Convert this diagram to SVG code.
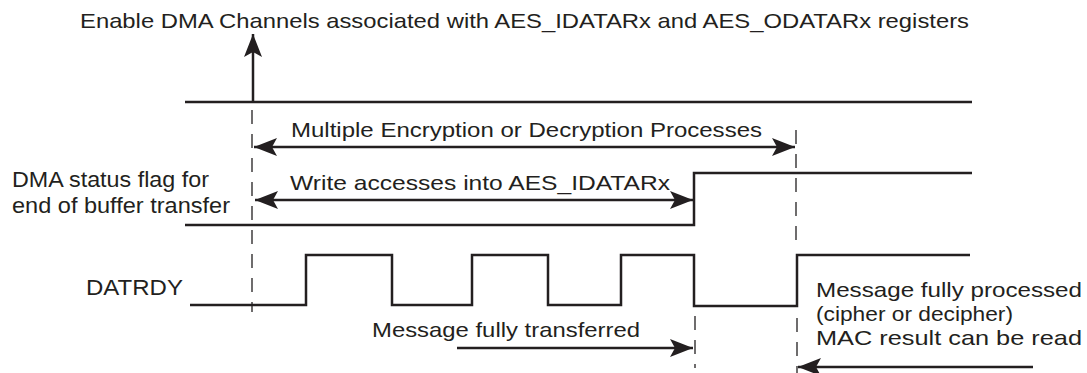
<svg xmlns="http://www.w3.org/2000/svg" width="1087" height="373" viewBox="0 0 1087 373">
<style>
text{font-family:"Liberation Sans",Arial,sans-serif;font-size:21px;fill:#231f20}
.big{font-size:22px}
.sig{fill:none;stroke:#231f20;stroke-width:2.5}
.arr{fill:none;stroke:#231f20;stroke-width:2.5}
.dash{fill:none;stroke:#231f20;stroke-width:1.3;stroke-dasharray:14 10}
</style>
<defs>
<marker id="ahb" viewBox="0 0 23 18" refX="23" refY="9" markerWidth="23" markerHeight="18" markerUnits="userSpaceOnUse" orient="auto-start-reverse">
<path d="M0,0 L23,9 L0,18 L5,9 Z" fill="#231f20"/>
</marker>
</defs>
<rect width="1087" height="373" fill="#fff"/>
<g id="labels">
<text x="80" y="28" textLength="889" lengthAdjust="spacingAndGlyphs">Enable DMA Channels associated with AES_IDATARx and AES_ODATARx registers</text>
<text x="291" y="137" textLength="471" lengthAdjust="spacingAndGlyphs">Multiple Encryption or Decryption Processes</text>
<text class="big" x="12" y="187" textLength="197" lengthAdjust="spacingAndGlyphs">DMA status flag for</text>
<text class="big" x="12" y="213" textLength="218" lengthAdjust="spacingAndGlyphs">end of buffer transfer</text>
<text x="290" y="190" textLength="380" lengthAdjust="spacingAndGlyphs">Write accesses into AES_IDATARx</text>
<text class="big" x="86" y="295" textLength="97" lengthAdjust="spacingAndGlyphs">DATRDY</text>
<text x="372" y="337" textLength="268" lengthAdjust="spacingAndGlyphs">Message fully transferred</text>
<text x="816" y="297" textLength="266" lengthAdjust="spacingAndGlyphs">Message fully processed</text>
<text x="816" y="321" textLength="197" lengthAdjust="spacingAndGlyphs">(cipher or decipher)</text>
<text x="816" y="345" textLength="266" lengthAdjust="spacingAndGlyphs">MAC result  can be read</text>
</g>
<g id="signals">
<path id="enable-line" class="sig" d="M185,102 H972"/>
<path id="dma-flag" class="sig" d="M185,225 H694 V173 H972"/>
<path id="datrdy" class="sig" d="M190,305 H306 V255 H392 V305 H472 V255 H548 V305 H621 V255 H694 V306 H797 V255 H970"/>
</g>
<g id="connectors">
<path class="dash" d="M252,110 V312"/>
<path class="dash" d="M796,130 V250"/>
<path class="dash" d="M797,318 V373"/>
<path class="dash" d="M695,316 V368"/>
<path class="arr" d="M253,102 V34" marker-end="url(#ahb)"/>
<path class="arr" d="M254,147 H795" marker-start="url(#ahb)" marker-end="url(#ahb)"/>
<path class="arr" d="M255,200 H693" marker-start="url(#ahb)" marker-end="url(#ahb)"/>
<path class="arr" d="M457,348 H693" marker-end="url(#ahb)"/>
<path class="arr" d="M1033,367 H798" marker-end="url(#ahb)"/>
</g>
</svg>
